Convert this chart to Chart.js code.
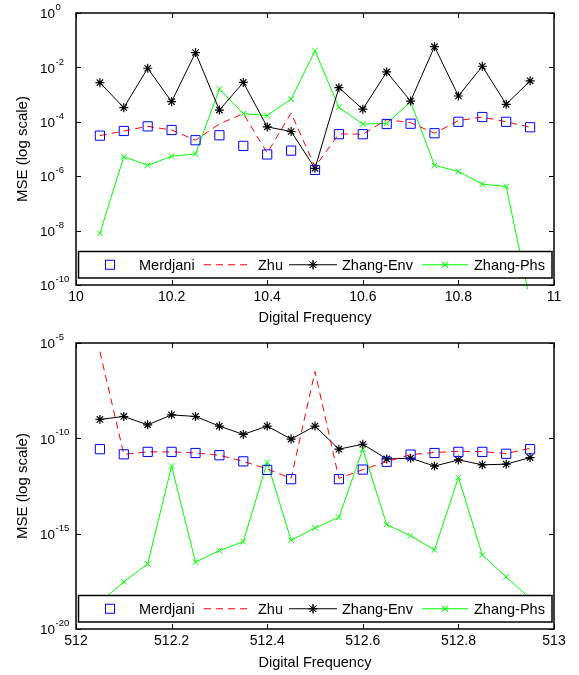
<!DOCTYPE html>
<html>
<head>
<meta charset="utf-8">
<script src="https://cdn.jsdelivr.net/npm/chart.js@4/dist/chart.umd.min.js"></script>
<style>
  body { margin: 0; background: #fff; }
  .plot { position: absolute; left: 0; }
</style>
</head>
<body>
<canvas id="top" class="plot" width="579" height="330" style="top:0"></canvas>
<canvas id="bottom" class="plot" width="579" height="345" style="top:330px"></canvas>
<script>
const seriesNames = ['Merdjani', 'Zhu', 'Zhang-Env', 'Zhang-Phs'];

// upper panel, around digital frequency 10
const freqTop = [10.05, 10.10, 10.15, 10.20, 10.25, 10.30, 10.35, 10.40, 10.45, 10.50,
                 10.55, 10.60, 10.65, 10.70, 10.75, 10.80, 10.85, 10.90, 10.95];
const merdjaniTop = [3.1e-5, 4.6e-5, 6.8e-5, 5.0e-5, 2.1e-5, 3.2e-5, 1.3e-5, 6.3e-6, 8.7e-6, 1.7e-6,
                     3.5e-5, 3.5e-5, 8.3e-5, 8.5e-5, 3.8e-5, 1.0e-4, 1.5e-4, 1.0e-4, 6.3e-5];
const zhuTop = [3.1e-5, 4.6e-5, 6.8e-5, 5.0e-5, 2.1e-5, 8.3e-5, 2.0e-4, 7.1e-6, 2.1e-4, 2.2e-6,
                3.6e-5, 3.5e-5, 1.2e-4, 9.3e-5, 3.8e-5, 1.1e-4, 1.5e-4, 1.0e-4, 6.3e-5];
const envTop = [2.75e-3, 3.3e-4, 9.3e-3, 5.5e-4, 3.5e-2, 2.7e-4, 2.8e-3, 6.5e-5, 4.4e-5, 1.95e-6,
                1.8e-3, 2.9e-4, 6.8e-3, 5.8e-4, 5.8e-2, 8.9e-4, 1.1e-2, 4.4e-4, 3.2e-3];
const phsTop = [7.9e-9, 5.2e-6, 2.5e-6, 5.4e-6, 6.6e-6, 1.6e-3, 2.0e-4, 1.7e-4, 6.8e-4, 4.1e-2,
                3.4e-4, 8.3e-5, 8.7e-5, 5.5e-4, 2.5e-6, 1.5e-6, 5.1e-7, 4.2e-7, 2.5e-11];
const yTickValsTop = [1e-10, 1e-8, 1e-6, 1e-4, 1e-2, 1];
const yTickExpTop = ['-10', '-8', '-6', '-4', '-2', '0'];
const xTicksTop = [10, 10.2, 10.4, 10.6, 10.8, 11];

// lower panel, around digital frequency 512
const freqBot = [512.05, 512.10, 512.15, 512.20, 512.25, 512.30, 512.35, 512.40, 512.45, 512.50,
                 512.55, 512.60, 512.65, 512.70, 512.75, 512.80, 512.85, 512.90, 512.95];
const merdjaniBot = [2.7e-11, 1.45e-11, 1.95e-11, 1.95e-11, 1.7e-11, 1.3e-11, 6.2e-12, 2.2e-12, 7.2e-13, null,
                     7.2e-13, 2.3e-12, 5.9e-12, 1.4e-11, 1.7e-11, 1.95e-11, 1.95e-11, 1.55e-11, 2.7e-11];
const zhuBot = [3.5e-6, 1.45e-11, 1.95e-11, 1.95e-11, 1.7e-11, 1.3e-11, 6.2e-12, 2.5e-12, 7.9e-13, 3.2e-7,
                7.9e-13, 2.3e-12, 5.9e-12, 1.4e-11, 1.8e-11, 2.1e-11, 2.0e-11, 1.6e-11, 3.0e-11];
const envBot = [9.8e-10, 1.4e-9, 5.1e-10, 1.7e-9, 1.4e-9, 4.4e-10, 1.6e-10, 4.4e-10, 9.1e-11, 4.4e-10,
                2.7e-11, 4.9e-11, 8.3e-12, 9.1e-12, 3.5e-12, 7.4e-12, 4.1e-12, 4.4e-12, 9.8e-12];
const phsBot = [2.5e-19, 2.95e-18, 2.6e-17, 3.5e-12, 3.2e-17, 1.3e-16, 3.8e-16, 5.5e-12, 4.5e-16, 2.0e-15,
                7.2e-15, 2.7e-11, 3.0e-15, 7.8e-16, 1.4e-16, 8.9e-13, 7.6e-17, 5.4e-18, 4.0e-19];
const yTickValsBot = [1e-20, 1e-15, 1e-10, 1e-5];
const yTickExpBot = ['-20', '-15', '-10', '-5'];
const xTicksBot = [512, 512.2, 512.4, 512.6, 512.8, 513];

const FONT = '"Liberation Sans", Arial, sans-serif';
Chart.defaults.color = '#000';
Chart.defaults.font.family = FONT;

const pts = (xs, ys) => xs.map((x, i) => ({ x: x, y: ys[i] }));

// box, inward ticks, y labels with exponent, legend box
const matlabAxes = {
  id: 'matlabAxes',
  afterDatasetsDraw(chart, args, opts) {
    const ctx = chart.ctx;
    const a = chart.chartArea;
    const xs = chart.scales.x, ys = chart.scales.y;
    ctx.save();
    ctx.strokeStyle = '#000';
    ctx.lineWidth = 1;
    ctx.beginPath();
    opts.xTicks.forEach(v => {
      const px = Math.round(xs.getPixelForValue(v)) + 0.5;
      ctx.moveTo(px, a.bottom); ctx.lineTo(px, a.bottom - 5);
      ctx.moveTo(px, a.top); ctx.lineTo(px, a.top + 5);
    });
    opts.yVals.forEach(v => {
      const py = Math.round(ys.getPixelForValue(v)) + 0.5;
      ctx.moveTo(a.left, py); ctx.lineTo(a.left + 5, py);
      ctx.moveTo(a.right, py); ctx.lineTo(a.right - 5, py);
    });
    ctx.stroke();

    // legend
    const lx = a.left + 2.5, lr = a.right - 2, lb = a.bottom - 7, lt = lb - 26.5;
    const cy = (lt + lb) / 2;
    ctx.fillStyle = '#fff';
    ctx.fillRect(lx, lt, lr - lx, lb - lt);
    ctx.lineWidth = 1.5;
    ctx.strokeRect(lx, lt, lr - lx, lb - lt);
    const ds = chart.data.datasets;
    const L = a.left;
    ctx.font = '14.5px ' + FONT;
    ctx.textBaseline = 'middle';
    ctx.fillStyle = '#000';
    // Merdjani
    ctx.lineWidth = 1;
    ctx.strokeStyle = ds[0].borderColor;
    ctx.strokeRect(L + 34 - 4.5, cy - 4.5, 9, 9);
    ctx.fillText(ds[0].label, L + 63, cy + 1);
    // Zhu
    ctx.strokeStyle = ds[1].borderColor;
    ctx.setLineDash(ds[1].borderDash);
    ctx.beginPath(); ctx.moveTo(L + 128, cy); ctx.lineTo(L + 176, cy); ctx.stroke();
    ctx.setLineDash([]);
    ctx.fillText(ds[1].label, L + 182, cy + 1);
    // Zhang-Env
    ctx.strokeStyle = ds[2].borderColor;
    ctx.beginPath(); ctx.moveTo(L + 213, cy); ctx.lineTo(L + 261, cy); ctx.stroke();
    Chart.helpers.drawPoint(ctx, { pointStyle: 'star', radius: 4.5, borderWidth: 1 }, L + 237, cy);
    ctx.stroke();
    ctx.fillText(ds[2].label, L + 266, cy + 1);
    // Zhang-Phs
    ctx.strokeStyle = ds[3].borderColor;
    ctx.beginPath(); ctx.moveTo(L + 346, cy); ctx.lineTo(L + 392, cy); ctx.stroke();
    Chart.helpers.drawPoint(ctx, { pointStyle: 'crossRot', radius: 4, borderWidth: 1 }, L + 369, cy);
    ctx.stroke();
    ctx.fillText(ds[3].label, L + 398, cy + 1);

    // box
    ctx.lineWidth = 1.5;
    ctx.strokeStyle = '#000';
    ctx.strokeRect(a.left, a.top, a.right - a.left, a.bottom - a.top);

    // y tick labels 10^n
    opts.yVals.forEach((v, i) => {
      const py = ys.getPixelForValue(v);
      ctx.fillStyle = '#000';
      ctx.textAlign = 'left';
      ctx.font = '13.5px ' + FONT;
      ctx.fillText('10', 40, py + 1.5);
      const w = ctx.measureText('10').width;
      ctx.font = '9.5px ' + FONT;
      ctx.fillText(opts.yExp[i], 40 + w + 0.5, py - 5.5);
    });
    ctx.restore();
  }
};

function makeChart(id, freq, m, z, e, p, yMin, yMax, xMin, xMax, yVals, yExp, xTicks, areaBottom, phsClip) {
  const h = document.getElementById(id).height;
  return new Chart(document.getElementById(id), {
    type: 'line',
    data: {
      datasets: [
        { label: seriesNames[0], data: pts(freq, m), showLine: false, borderColor: '#0000ff',
          pointStyle: 'rect', pointRadius: 6.5, pointBorderWidth: 1, pointBackgroundColor: 'rgba(0,0,0,0)', order: 0 },
        { label: seriesNames[1], data: pts(freq, z), borderColor: '#ff0000', borderWidth: 1,
          borderDash: [7, 5], pointRadius: 0, order: 1 },
        { label: seriesNames[2], data: pts(freq, e), borderColor: '#000000', borderWidth: 1,
          pointStyle: 'star', pointRadius: 4.5, pointBorderWidth: 1.2, order: 2 },
        { label: seriesNames[3], data: pts(freq, p), borderColor: '#00ff00', borderWidth: 1,
          pointStyle: 'crossRot', pointRadius: 4, pointBorderWidth: 1, order: 3, clip: phsClip }
      ]
    },
    options: {
      responsive: false,
      animation: false,
      layout: { padding: { top: 13, right: 25, left: 0, bottom: 0 } },
      plugins: {
        legend: { display: false },
        tooltip: { enabled: false },
        matlabAxes: { yVals: yVals, yExp: yExp, xTicks: xTicks }
      },
      scales: {
        x: {
          type: 'linear', min: xMin, max: xMax,
          grid: { display: false, drawTicks: false }, border: { display: false },
          afterBuildTicks: s => { s.ticks = xTicks.map(v => ({ value: v })); },
          afterFit: s => { s.height = h - areaBottom; },
          ticks: { font: { size: 14 }, padding: 4, maxRotation: 0, autoSkip: false,
                   callback: v => String(Number(v.toFixed(2))) },
          title: { display: true, text: 'Digital Frequency', font: { size: 14.5 }, padding: { top: 0, bottom: 3 } }
        },
        y: {
          type: 'logarithmic', min: yMin, max: yMax,
          grid: { display: false }, border: { display: false },
          afterBuildTicks: s => { s.ticks = yVals.map(v => ({ value: v })); },
          afterFit: s => { s.width = 76; },
          ticks: { display: false },
          title: { display: true, text: 'MSE (log scale)', font: { size: 15 }, padding: { top: 13.5, bottom: 0 } }
        }
      }
    },
    plugins: [matlabAxes]
  });
}

makeChart('top', freqTop, merdjaniTop, zhuTop, envTop, phsTop, 1e-10, 1, 10, 11,
          yTickValsTop, yTickExpTop, xTicksTop, 285, { left: 0, top: 0, right: 0, bottom: 4 });
makeChart('bottom', freqBot, merdjaniBot, zhuBot, envBot, phsBot, 1e-20, 1e-5, 512, 513,
          yTickValsBot, yTickExpBot, xTicksBot, 299, 0);
</script>
</body>
</html>
